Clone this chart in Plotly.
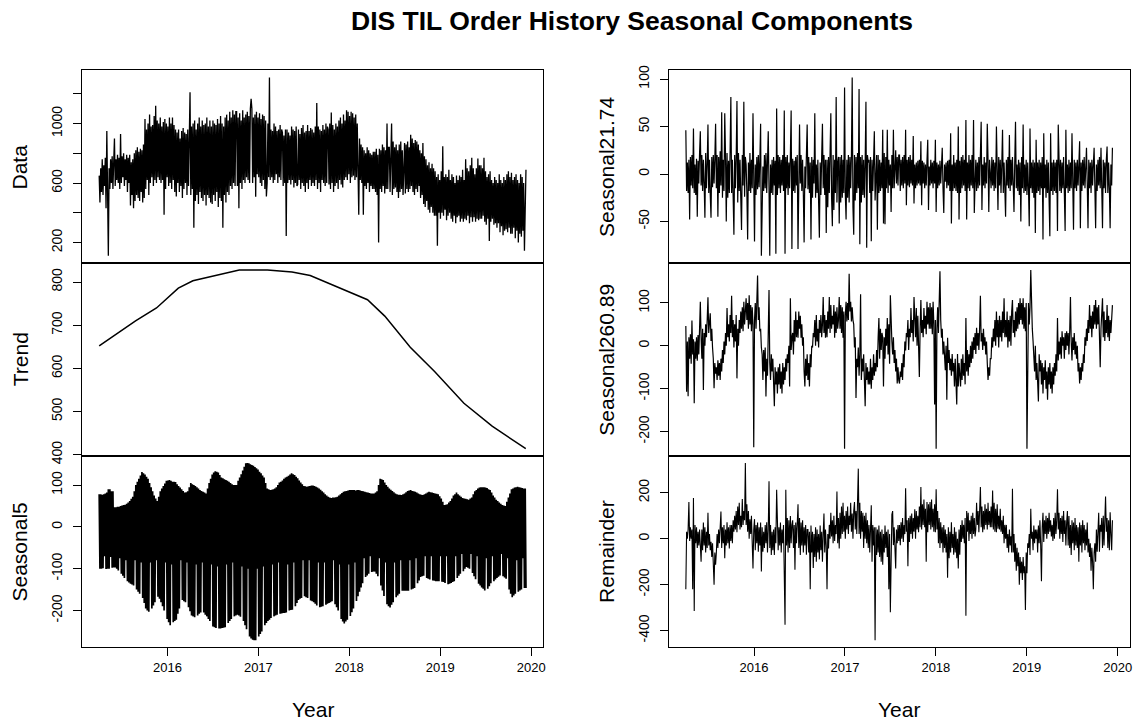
import numpy as np
import plotly.graph_objects as go

# Business-day series, April 2015 .. December 2019
START, END = 2015.25, 2019.942
XRANGE = [2015.062, 2020.130]
YEARS = [2016, 2017, 2018, 2019, 2020]

data_vals = [
    650, 470, 700, 540, 760, 520, 720, 580, 770, 430, 950, 295, 112, 700, 560, 760, 600, 780, 560, 740,
    900, 580, 760, 620, 790, 600, 770, 560, 930, 600, 780, 640, 800, 580, 760, 620, 790, 540, 770, 600,
    790, 450, 740, 520, 760, 430, 800, 480, 820, 520, 840, 500, 810, 480, 830, 540, 820, 470, 860, 500,
    1030, 560, 960, 620, 1000, 520, 1060, 600, 980, 640, 990, 580, 1050, 620, 1120, 600, 1020, 640, 1000, 620,
    1040, 600, 980, 620, 1010, 387, 1030, 560, 1000, 640, 980, 580, 1040, 600, 1000, 560, 1040, 620, 990, 540,
    960, 510, 940, 600, 960, 540, 900, 580, 950, 500, 970, 560, 940, 600, 930, 520, 960, 580, 1000, 1210,
    520, 980, 560, 1000, 299, 1020, 480, 960, 520, 1000, 460, 1040, 540, 980, 500, 1020, 480, 990, 520, 1000,
    450, 1040, 520, 980, 500, 1020, 470, 980, 460, 1020, 520, 1000, 480, 990, 540, 1030, 440, 1000, 500, 1050,
    480, 1000, 299, 980, 520, 1040, 470, 1060, 540, 1020, 520, 1080, 580, 1040, 560, 1090, 600, 1060, 580, 1080,
    1080, 580, 1040, 430, 1070, 600, 1020, 560, 1090, 620, 1040, 600, 1060, 640, 1080, 620, 1050, 600, 1100, 1167,
    1100, 600, 1040, 640, 1060, 508, 1080, 660, 1040, 640, 1070, 600, 1030, 580, 1060, 620, 1050, 560, 1020, 510,
    600, 1000, 640, 1310, 620, 960, 640, 950, 600, 1000, 620, 980, 660, 950, 600, 960, 640, 990, 620, 960,
    940, 580, 920, 600, 960, 244, 960, 600, 940, 620, 920, 590, 980, 620, 960, 570, 950, 600, 980, 580,
    590, 960, 620, 930, 560, 970, 600, 990, 580, 940, 540, 950, 600, 990, 560, 950, 620, 970, 580, 960,
    600, 940, 580, 980, 620, 1138, 560, 980, 600, 960, 540, 950, 620, 990, 600, 960, 580, 1000, 600, 980,
    960, 590, 1000, 560, 1075, 600, 990, 540, 960, 580, 1000, 600, 980, 560, 1020, 620, 1040, 590, 1000, 570,
    1060, 620, 1020, 640, 1090, 620, 1080, 660, 1050, 600, 1080, 640, 1070, 650, 1040, 620, 1060, 640, 1000, 620,
    387, 900, 620, 860, 600, 840, 387, 820, 580, 800, 560, 840, 600, 820, 540, 800, 580, 790, 560, 810,
    560, 810, 540, 830, 520, 790, 200, 830, 560, 820, 540, 860, 580, 840, 530, 820, 560, 1000, 560, 840,
    840, 540, 860, 1000, 520, 880, 560, 840, 570, 860, 540, 820, 500, 860, 540, 880, 560, 820, 520, 860,
    870, 530, 860, 560, 880, 540, 840, 560, 925, 580, 900, 540, 870, 520, 890, 560, 880, 540, 860, 580,
    820, 500, 800, 520, 870, 460, 780, 440, 760, 480, 720, 420, 740, 400, 700, 440, 730, 400, 700, 380,
    680, 380, 640, 178, 660, 400, 620, 360, 680, 400, 848, 380, 640, 420, 660, 350, 640, 380, 690, 400,
    620, 360, 660, 340, 640, 380, 600, 330, 650, 370, 620, 380, 650, 340, 640, 360, 690, 340, 620, 360,
    760, 350, 700, 380, 680, 330, 720, 370, 770, 340, 700, 370, 660, 340, 700, 360, 765, 350, 720, 360,
    720, 360, 700, 380, 770, 340, 680, 320, 640, 360, 660, 210, 680, 340, 620, 360, 600, 320, 640, 330,
    620, 300, 600, 330, 660, 270, 620, 310, 600, 250, 640, 280, 620, 290, 660, 270, 680, 300, 640, 260,
    670, 260, 620, 300, 640, 230, 660, 280, 620, 200, 600, 260, 660, 240, 640, 280, 600, 145, 560, 690,
]

trend_t = [2015.25, 2015.45, 2015.65, 2015.88, 2016.12, 2016.28, 2016.51,
           2016.79, 2017.10, 2017.37, 2017.57, 2017.85, 2018.20, 2018.39,
           2018.67, 2018.94, 2019.26, 2019.57, 2019.94]
trend_v = [652, 681, 710, 740, 786, 803, 815, 828, 828, 823, 815, 790,
           759, 721, 649, 592, 519, 466, 414]

seasonal5_vals = [
    78, -100, 78, -100, 77, -99, 78, -70, 80, -101, 82, -100, 90, -100, 90, -72, 85, -98, 85, -97,
    47, -97, 47, -100, 48, -104, 48, -75, 50, -112, 51, -117, 52, -122, 53, -80, 55, -130, 58, -133,
    62, -136, 67, -138, 72, -140, 85, -80, 100, -150, 108, -155, 115, -160, 123, -85, 131, -170, 128, -182,
    125, -195, 120, -200, 115, -203, 105, -85, 95, -195, 85, -188, 75, -180, 68, -80, 62, -167, 72, -172,
    85, -180, 92, -190, 98, -200, 104, -85, 110, -220, 111, -228, 112, -235, 110, -90, 108, -228, 108, -225,
    107, -222, 102, -208, 98, -195, 94, -80, 90, -175, 86, -178, 82, -180, 83, -85, 85, -192, 95, -202,
    105, -212, 102, -214, 100, -216, 98, -90, 95, -212, 92, -208, 88, -205, 86, -85, 84, -205, 82, -210,
    80, -214, 92, -220, 105, -225, 115, -90, 125, -238, 130, -240, 133, -242, 132, -95, 130, -243, 124, -243,
    118, -242, 116, -241, 114, -240, 112, -90, 110, -230, 108, -225, 105, -220, 102, -85, 100, -214, 100, -212,
    100, -210, 110, -212, 118, -215, 126, -95, 135, -225, 144, -235, 152, -245, 153, -100, 152, -262, 150, -267,
    148, -270, 146, -271, 143, -271, 140, -100, 137, -262, 132, -256, 128, -250, 123, -95, 118, -235, 105, -230,
    92, -225, 90, -222, 88, -218, 89, -90, 90, -214, 92, -212, 95, -210, 100, -85, 106, -208, 108, -207,
    111, -206, 115, -206, 118, -205, 120, -90, 122, -200, 125, -199, 128, -198, 126, -85, 124, -190, 120, -182,
    116, -175, 111, -172, 106, -170, 102, -80, 98, -166, 97, -168, 96, -170, 97, -80, 98, -176, 99, -178,
    99, -180, 98, -184, 96, -188, 94, -85, 92, -192, 89, -191, 85, -190, 82, -85, 78, -186, 75, -184,
    72, -182, 70, -180, 69, -178, 70, -80, 70, -185, 71, -192, 72, -200, 75, -90, 78, -220, 81, -226,
    84, -231, 85, -226, 86, -222, 87, -90, 88, -213, 88, -204, 88, -195, 88, -85, 87, -177, 88, -166,
    88, -155, 87, -145, 86, -135, 85, -75, 84, -120, 83, -116, 82, -112, 81, -70, 80, -108, 80, -107,
    80, -107, 82, -112, 85, -118, 100, -75, 115, -140, 114, -152, 112, -165, 106, -85, 100, -185, 96, -190,
    92, -193, 89, -186, 86, -180, 83, -85, 80, -168, 78, -164, 77, -160, 77, -80, 76, -153, 78, -153,
    80, -153, 83, -153, 86, -153, 87, -80, 88, -150, 86, -148, 85, -146, 84, -75, 82, -135, 80, -128,
    78, -120, 77, -118, 76, -117, 78, -70, 80, -122, 82, -124, 84, -126, 83, -70, 82, -128, 81, -129,
    80, -130, 79, -130, 78, -130, 73, -70, 68, -131, 60, -132, 52, -134, 53, -70, 54, -137, 58, -136,
    62, -134, 68, -132, 75, -130, 78, -70, 82, -122, 78, -117, 75, -112, 72, -65, 69, -106, 68, -100,
    67, -96, 66, -98, 65, -100, 68, -65, 70, -110, 78, -118, 85, -125, 88, -70, 92, -136, 94, -140,
    95, -145, 95, -148, 95, -152, 94, -75, 93, -148, 90, -142, 88, -135, 82, -70, 75, -130, 70, -126,
    65, -122, 62, -119, 58, -116, 55, -65, 52, -118, 51, -121, 50, -124, 60, -75, 70, -150, 80, -160,
    90, -168, 92, -164, 94, -160, 95, -80, 96, -155, 95, -152, 94, -150, 93, -75, 92, -146, 92, -146,
]

seasonal21_vals = [
    46, -18, 12, -20, 15, -48, 18, -12, 20, -15, 48, -20, 10, -22, 16, -45, 14, -10, 22, 45,
    -12, 20, -18, 15, -10, -46, 22, -15, 10, 52, -20, 15, -22, -46, 18, -14, 20, -10, 16, 53,
    -15, 20, -45, 18, -20, 24, -12, 65, -25, 15, -18, 64, 20, -50, 22, -25, 14, -20, 24, 81,
    -20, 15, -24, -64, 20, -15, 18, 77, -30, 22, -18, 15, -25, -59, 20, -12, 76, -24, 18, 10,
    -20, -69, 12, -18, 22, -20, 15, -15, 64, -22, -71, 10, -22, 18, -16, 20, -14, 15, 53, -86,
    -24, 8, -18, 20, -15, 22, -20, 12, 45, -15, -86, 10, -20, 15, -22, 18, -12, 14, -84, 69,
    -22, 20, -15, 18, -20, 15, -12, 20, -18, 67, -84, 18, -15, 20, -22, 12, -15, 20, 67, -79,
    16, -18, 14, -20, 18, -12, 20, -79, 15, 52, -10, 20, -18, 15, -22, -72, 8, -15, 20, 52,
    -16, 18, -20, 12, -69, 18, -25, 15, -10, 64, -25, 10, -20, 15, -30, -67, 12, -22, 18, 53,
    -15, 20, -22, 15, -62, 15, -35, 18, -20, 12, 64, -25, -55, 20, -38, 15, -20, 81, -30, 12,
    18, -52, 18, -30, 20, -25, 15, -20, 91, -22, -48, 15, -25, 20, -30, 18, -15, 20, 101.7, -35,
    -64, 20, -28, 18, -20, 22, -15, 89.6, -74, 18, -30, 20, -22, 15, -25, 12, 76, -77.6, 20, 12,
    15, -20, 18, -70.7, 15, -18, 20, 45, -28, 12, 20, -58.6, 20, -20, 15, -18, 12, -15, 46.5, -52,
    22, -53, 18, -15, 46.5, -20, 15, -12, 10, -40, 20, -15, 46.5, -15, 20, 25, -10, 18, -12, 20,
    20, -18, 15, -12, 18, -15, 20, -10, 46.5, -33, 15, -12, 18, -14, 20, -10, 15, -12, 40, -31,
    10, -15, 12, -12, 14, -10, 15, -12, 34.5, -33, 14, -10, 12, -15, 10, -12, 14, 36, -38, 8,
    -12, 15, -10, 12, -15, 14, -10, 36, -40, 12, -15, 10, -12, 14, -10, 12, 27.6, -15, -41, 10,
    -8, 12, -15, 14, -12, 15, -18, 43, -52, 10, -18, 20, -15, 12, -18, 15, -20, 50, -48, 14,
    -20, 18, -15, 20, -12, 15, -18, 57, -48, 12, -15, 20, -18, 15, -12, 20, -15, 57, -41, -10,
    15, -18, 12, -15, 18, -12, 15, 55, -38, 10, -12, 18, -15, 12, -10, 53, 15, -40, 15, -8,
    -15, 18, -12, 15, -18, 12, -15, 50, 10, -38, 18, -12, 15, -20, 10, 46.5, -20, 12, -15, -45,
    15, -12, 18, -15, 41, -18, 15, -12, 18, -15, -40, 12, 55, -15, 10, -18, 15, -22, 12, -50,
    18, -15, 52, -20, 10, -18, 15, -22, 12, -15, -55, 48, -15, 12, -20, 15, -25, 12, -62, 36,
    -20, 12, -18, 15, -22, 12, -15, 18, -69, 43, -15, 10, -25, 15, -20, 12, -18, -65.5, 43, -18,
    12, -22, 15, -18, 12, -20, 15, -60, 52, 10, -18, 15, -20, 12, -15, 18, -20, -60, 46.5, -15,
    10, -20, 15, -18, 12, -15, 43, -12, -58.6, 15, -15, 12, -18, 15, -12, 10, 34.5, -57, 12, -18,
    15, -12, 18, -15, 12, 27.6, -10, -57, 15, -15, 12, -20, 15, -12, 10, 27.6, -15, -57, 10, -18,
    15, -12, 18, -15, 27.6, -10, -57, 15, -15, 12, -20, 15, 29, -20, 12, -15, -57, 10, -12, 27.6,
]

seasonal261_vals = [
    46, -107, 10, -118, 20, -30, 27, -42, 59, -20, 15, -134, 10, -30, 20, -35, 25, -20, 40, 103,
    20, -30, 40, -103, 30, 0, 50, 20, 60, 113, 30, 72, 76, 11, 40, -4, -30, -99, -40, -65,
    -50, -80, -34, -70, -40, -80, -30, -60, -10, -40, 10, -20, 30, 0, 88, 20, 50, 10, 72, 30,
    117, 20, 60, -4, 50, 10, 72, -76, 40, 0, 60, 30, 80, 40, 90, 34, 103, 50, 90, 111,
    60, 100, 40, 118, 50, 95, 34, 90, 50, -237, 60, 100, 40, 95, 164, 60, 90, 34, 40, -4,
    -20, -80, -10, -60, -4, -118, -30, -70, 20, 130, -40, -80, -20, -60, -30, -80, -141, -50, -90, -60,
    -111, -50, -90, -42, -100, -60, -111, -40, -90, -50, -80, -30, -60, -20, -40, 0, -95, 111, -10, 20,
    30, -20, 60, 10, 80, 20, 60, 19, 80, 40, 70, 19, 50, 0, 20, -60, -95, -30, -70, -20,
    -80, -40, -95, -20, -50, 0, -4, 30, 20, 60, 0, 72, 10, 40, -4, 60, 30, 72, 20, 50,
    114, 30, 72, 19, 60, 20, 80, 40, 114, 30, 95, 40, 70, 50, 95, 19, 80, 30, 90, 40,
    60, 114, 40, 95, 30, 90, 19, 80, -240, 70, 103, 57, 100, 60, 168, 80, 103, 57, 90, 60,
    50, -4, 20, -122, -30, -50, -4, -70, -20, 120, -80, -30, -60, -20, -70, -141, -40, -80, -50, -90,
    -60, -90, -30, -100, -50, -80, -20, -70, -40, -60, -10, -50, 20, 65, -30, 40, -10, 30, 20, -95,
    20, -30, 40, 0, 65, -20, 50, -42, 118, 30, 10, -20, 20, -40, -10, -60, -30, -88, -50, -80,
    -88, -60, -73, -40, -80, -20, -50, 10, -11, 30, 20, 60, -10, 40, 20, 88, 30, 60, 10, 114,
    60, 20, 88, 0, 70, -11, -73, 40, 107, 30, 60, 20, 88, 40, 70, 27, 103, 50, 90, 40,
    100, 40, 90, 27, 103, 50, -137, 60, -240, 40, 90, 30, 100, 174, 60, 19, 40, -20, 10, -40,
    -57, 0, -126, 19, -40, -10, -57, -30, -70, -19, -60, -40, -95, -30, -80, -137, -19, -95, -40, -80,
    -95, -30, -80, -20, -70, -40, -90, 65, -60, -10, -70, -20, -50, 0, -40, 10, -30, 20, -10, 30,
    -19, 42, 0, 30, -10, 42, 117, 10, 30, -10, 40, 0, 20, -20, 10, -40, -80, -50, -70, -30,
    -30, 20, -4, 40, 10, 60, 0, 80, 20, 60, -4, 70, 20, 60, 10, 80, 30, 111, 20, 60,
    20, 80, -4, 60, 10, 70, 0, 80, 107, 30, 60, 20, 80, 34, 90, 40, 100, 50, 111, 60,
    100, 50, 111, 40, 90, 34, 100, -240, 60, 100, 50, 90, 177, 60, 40, 11, -20, -60, 0, -80,
    -40, -80, -130, -20, -60, -34, -90, -40, -111, -50, -80, -34, -100, -60, -126, -50, -90, -40, -100, -60,
    -111, -50, -90, -40, -70, -20, -60, 65, -34, 10, -20, 20, -30, 34, 0, 20, -30, 30, -10, 34,
    0, 30, -20, 34, 114, 10, -34, 20, -10, 30, -20, 10, -30, 0, -60, -40, -88, -50, -80, -40,
    -60, -20, -40, 20, 0, 40, 11, 60, 30, 95, 40, 70, 20, 80, 40, 95, 50, 107, 40, 90,
    50, 95, 30, -50, 40, 80, 111, 20, 80, 11, 60, 30, 95, 20, 70, 11, 60, 30, 80, 95,
]

remainder_vals = [
    -220, 30, 0, 40, 160, -10, 50, 0, 40, -220, 177, -315, 60, -20, 50, -40, 30, -30, 40, -60,
    -100, 40, -50, 70, -30, 50, -60, 30, -40, 113, -30, 20, -50, -14, -80, -20, -110, -200, -60, -113,
    -60, 20, -40, 40, -20, 60, 118, -40, 50, -20, 60, -85, 40, -30, 71, -20, 50, -43, 60, -10,
    60, -20, 80, 30, 100, 40, 120, 28, 140, 60, 156, 40, 100, 50, 173, 60, 120, 80, 330, 60,
    150, 30, 120, 0, 85, 20, 100, -20, -130, 40, 85, -50, 60, -20, 70, -57, 50, -30, 70, -143,
    50, -57, 30, -40, 60, -20, 71, -60, 40, 250, -40, 60, -71, 30, -50, 40, -71, 50, -20, 213,
    10, -50, 50, -30, 70, -60, 40, -20, 60, -180, -375, 213, -30, 90, -60, 80, -40, 99, -20, 60,
    80, -40, 60, -135, 70, -20, 99, 150, -40, 90, -71, 70, -30, 80, -60, 50, -30, 60, -70, 40,
    40, -60, 30, -220, 57, -60, 30, -128, 20, -80, 50, -100, 40, -60, 20, -90, 57, -50, 30, -100,
    20, 110, -60, 40, -30, -220, 20, -43, 60, 0, 113, 10, 80, -20, 100, -10, 60, 20, 205, -20,
    90, -43, 113, 0, 140, 20, 156, 30, 100, 0, 120, 40, 140, 20, 100, 60, 156, 30, 110, 0,
    120, 160, 40, 120, 20, 150, 305, 20, 156, 0, 120, 30, 113, -40, 100, 0, 113, -20, 80, -40,
    60, -60, 80, 145, -100, 60, -30, 50, -442, 50, -71, 40, -60, 57, -80, 30, -100, 40, -113, 20,
    -60, 57, -40, 30, -80, 40, -220, 20, -320, 40, 105, 120, -28, 50, -60, -130, 40, -20, 60, -10,
    60, -28, 71, 0, 90, -14, 60, 20, 220, 30, 80, -120, 90, -14, 100, 20, 110, 0, 90, 30,
    128, 0, 120, 40, 100, 28, 140, 50, 225, 40, 150, 60, 170, 50, 130, -100, 160, 28, 150, 60,
    160, 40, 170, 50, 130, 30, 150, 28, 215, 40, 120, -20, 90, -40, 71, -20, 50, -60, 60, -40,
    40, -60, 20, -170, 50, -85, 30, -60, 71, -40, 20, -70, 50, -60, 30, -85, 0, -130, 40, -70,
    60, -14, 80, 0, 60, -20, 90, -335, 120, 30, 113, -10, 80, 20, 100, 0, 113, 20, 90, 10,
    40, 156, 60, 120, 28, 150, 225, 50, 140, 28, 120, 40, 150, 60, 130, 40, 156, 60, 120, 50,
    140, 50, 210, 40, 156, 30, 130, 28, 150, 43, 100, 40, 130, 30, 80, 20, 100, -20, 60, 0,
    60, -40, 20, -60, 40, -30, 10, -60, 217, -60, 20, -100, -20, -140, -40, -120, -60, -200, -80, -150,
    -100, -180, -80, -150, -120, -310, -60, -150, -20, -40, 20, -71, 130, 0, 30, -50, 57, -20, 40, 0,
    40, -60, 57, -20, 80, -30, -185, 50, 113, -14, 80, 20, 100, 0, 90, 20, 113, 30, 80, 10,
    60, -10, 90, 0, 113, 20, 80, 215, 40, 113, 0, 90, 20, 100, -14, 120, 20, 80, -30, 70,
    120, -30, 99, -40, 60, -71, 80, -20, 70, -50, 90, -30, 60, -40, 50, -100, 70, -30, 60, -60,
    80, -20, 60, -50, 40, -30, 70, -60, 0, -80, -20, -140, -40, -100, -220, -60, -20, -100, 40, -57,
    20, 113, -57, 60, 30, 90, -40, 100, -30, 80, 184, 30, 90, -40, 80, -50, 115, 20, -50, 80,
]

W, H = 1141, 727
FONT = "Liberation Sans, Arial, sans-serif"

# panel geometry in pixels
LEFT_X = (82.3, 544.5)
RIGHT_X = (670.5, 1132.5)
ROWS_Y = [(66.5, 262.5), (262.5, 459.0), (459.0, 654.0)]


def xdom(px):
    return [px[0] / W, px[1] / W]


def ydom(py):
    return [1 - py[1] / H, 1 - py[0] / H]


def padded(vals):
    lo, hi = float(np.min(vals)), float(np.max(vals))
    pad = 0.04 * (hi - lo)
    return [lo - pad, hi + pad]


def time_index(vals):
    return np.linspace(START, END, len(vals))


panels = [
    # (name, x, y, col, row, tickvals, ticktext, line width)
    ("Data", time_index(data_vals), data_vals, 0, 0,
     [200, 400, 600, 800, 1000, 1200], ["200", "", "600", "", "1000", ""], 1.3),
    ("Trend", trend_t, trend_v, 0, 1,
     [400, 500, 600, 700, 800], ["400", "500", "600", "700", "800"], 1.5),
    ("Seasonal5", time_index(seasonal5_vals), seasonal5_vals, 0, 2,
     [-200, -100, 0, 100], ["-200", "-100", "0", "100"], 1.7),
    ("Seasonal21.74", time_index(seasonal21_vals), seasonal21_vals, 1, 0,
     [-50, 0, 50, 100], ["-50", "0", "50", "100"], 1.2),
    ("Seasonal260.89", time_index(seasonal261_vals), seasonal261_vals, 1, 1,
     [-200, -100, 0, 100], ["-200", "-100", "0", "100"], 1.2),
    ("Remainder", time_index(remainder_vals), remainder_vals, 1, 2,
     [-400, -200, 0, 200], ["-400", "-200", "0", "200"], 1.1),
]

fig = go.Figure()
layout = dict(
    width=W, height=H, margin=dict(l=0, r=0, t=0, b=0),
    paper_bgcolor="white", plot_bgcolor="white", showlegend=False,
    font=dict(family=FONT, color="black"),
)
annotations = []

for i, (name, xs, ys, col, row, tv, tt, lw) in enumerate(panels, start=1):
    sfx = "" if i == 1 else str(i)
    fig.add_trace(go.Scatter(
        x=list(xs), y=list(ys), mode="lines",
        line=dict(color="black", width=lw),
        xaxis="x" + sfx, yaxis="y" + sfx, hoverinfo="skip",
    ))
    bottom = row == 2
    layout["xaxis" + sfx] = dict(
        domain=xdom(LEFT_X if col == 0 else RIGHT_X), anchor="y" + sfx,
        range=XRANGE, showgrid=False, zeroline=False,
        showline=True, mirror=True, linecolor="black", linewidth=1,
        tickvals=YEARS, ticktext=[str(y) for y in YEARS],
        ticks="outside" if bottom else "", ticklen=8, tickcolor="black",
        showticklabels=bottom, tickfont=dict(size=13, family=FONT, color="black"),
    )
    layout["yaxis" + sfx] = dict(
        domain=ydom(ROWS_Y[row]), anchor="x" + sfx,
        range=padded(ys), showgrid=False, zeroline=False,
        showline=True, mirror=True, linecolor="black", linewidth=1,
        tickvals=tv, ticktext=tt, ticks="outside", ticklen=8, tickcolor="black",
        tickangle=-90, ticklabelstandoff=5,
        tickfont=dict(size=14, family=FONT, color="black"),
    )
    px_x = 20 if col == 0 else 608
    py_c = (ROWS_Y[row][0] + ROWS_Y[row][1]) / 2
    annotations.append(dict(
        text=name, x=px_x / W, y=1 - py_c / H, xref="paper", yref="paper",
        textangle=-90, showarrow=False, xanchor="center", yanchor="middle",
        font=dict(size=21, family=FONT, color="black"),
    ))

for cx in ((LEFT_X[0] + LEFT_X[1]) / 2, (RIGHT_X[0] + RIGHT_X[1]) / 2):
    annotations.append(dict(
        text="Year", x=cx / W, y=1 - 717 / H, xref="paper", yref="paper",
        showarrow=False, xanchor="center", yanchor="middle",
        font=dict(size=21, family=FONT, color="black"),
    ))

annotations.append(dict(
    text="<b>DIS TIL Order History Seasonal Components</b>",
    x=634 / W, y=1 - 16 / H, xref="paper", yref="paper",
    showarrow=False, xanchor="center", yanchor="middle",
    font=dict(size=26.5, family=FONT, color="black"),
))

layout["annotations"] = annotations
fig.update_layout(**layout)
fig.write_html("out.html")
